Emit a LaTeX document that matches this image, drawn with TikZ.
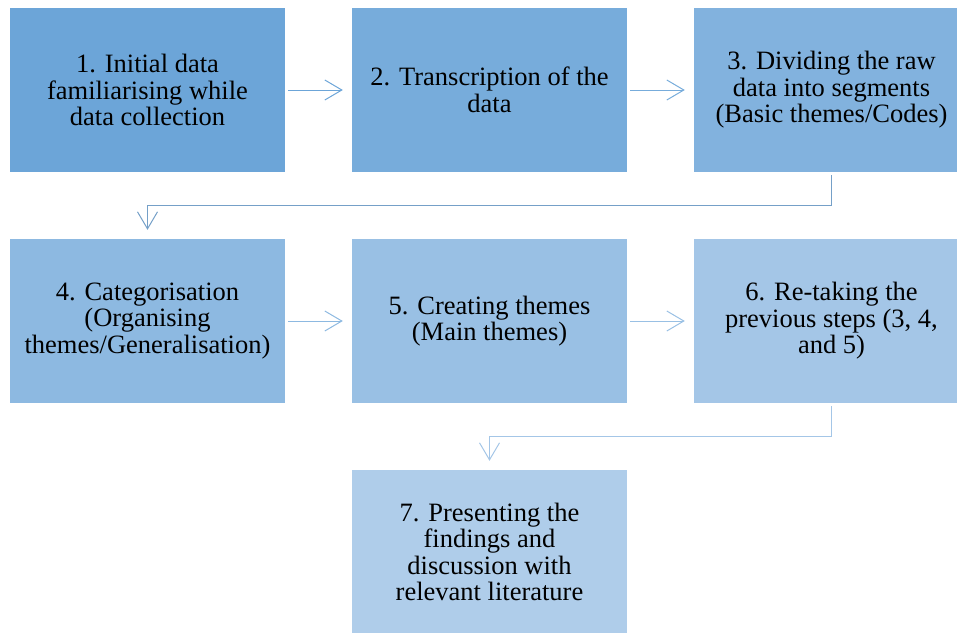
\documentclass[tikz,border=0pt]{standalone}
\usepackage{fontspec}
\setmainfont{Liberation Serif}
\usetikzlibrary{arrows.meta}
\definecolor{stepA}{RGB}{108,165,216}
\definecolor{stepB}{RGB}{119,172,219}
\definecolor{stepC}{RGB}{130,178,222}
\definecolor{stepD}{RGB}{141,185,225}
\definecolor{stepE}{RGB}{153,192,228}
\definecolor{stepF}{RGB}{164,198,231}
\definecolor{stepG}{RGB}{175,205,234}
\begin{document}
\begin{tikzpicture}[x=1pt,y=-1pt,
  box/.style={minimum width=275pt,minimum height=164pt,inner sep=0pt,align=center,font=\fontsize{26.5}{26.5}\selectfont},
  link/.style={line width=1pt,-{Straight Barb[length=17pt,width=20pt]},shorten <=3pt,shorten >=9pt}]
\useasboundingbox (0,0) rectangle (957,632);
\clip (0,0) rectangle (957,632);
% first row
\node[box,fill=stepA] (s1) at (147.5,90) {1. Initial data\\familiarising while\\data collection};
\node[box,fill=stepB] (s2) at (489.5,90) {2. Transcription of the\\data};
\node[box,fill=stepC] (s3) at (831.5,90) {3. Dividing the raw\\data into segments\\(Basic themes/Codes)};
% second row
\node[box,fill=stepD] (s4) at (147.5,321) {4. Categorisation\\(Organising\\themes/Generalisation)};
\node[box,fill=stepE] (s5) at (489.5,321) {5. Creating themes\\(Main themes)};
\node[box,fill=stepF] (s6) at (831.5,321) {6. Re-taking the\\previous steps (3, 4,\\and 5)};
% last step
\node[box,fill=stepG] (s7) at (489.5,552) {7. Presenting the\\findings and\\discussion with\\relevant literature};
\draw[link,stepA] (s1) -- (s2);
\draw[link,stepB] (s2) -- (s3);
\draw[link,stepC!90!black] (s3.south) -- ++(0,33) -| (s4.north);
\draw[link,stepD] (s4) -- (s5);
\draw[link,stepE] (s5) -- (s6);
\draw[link,stepF] (s6.south) -- ++(0,33) -| (s7.north);
\end{tikzpicture}
\end{document}
